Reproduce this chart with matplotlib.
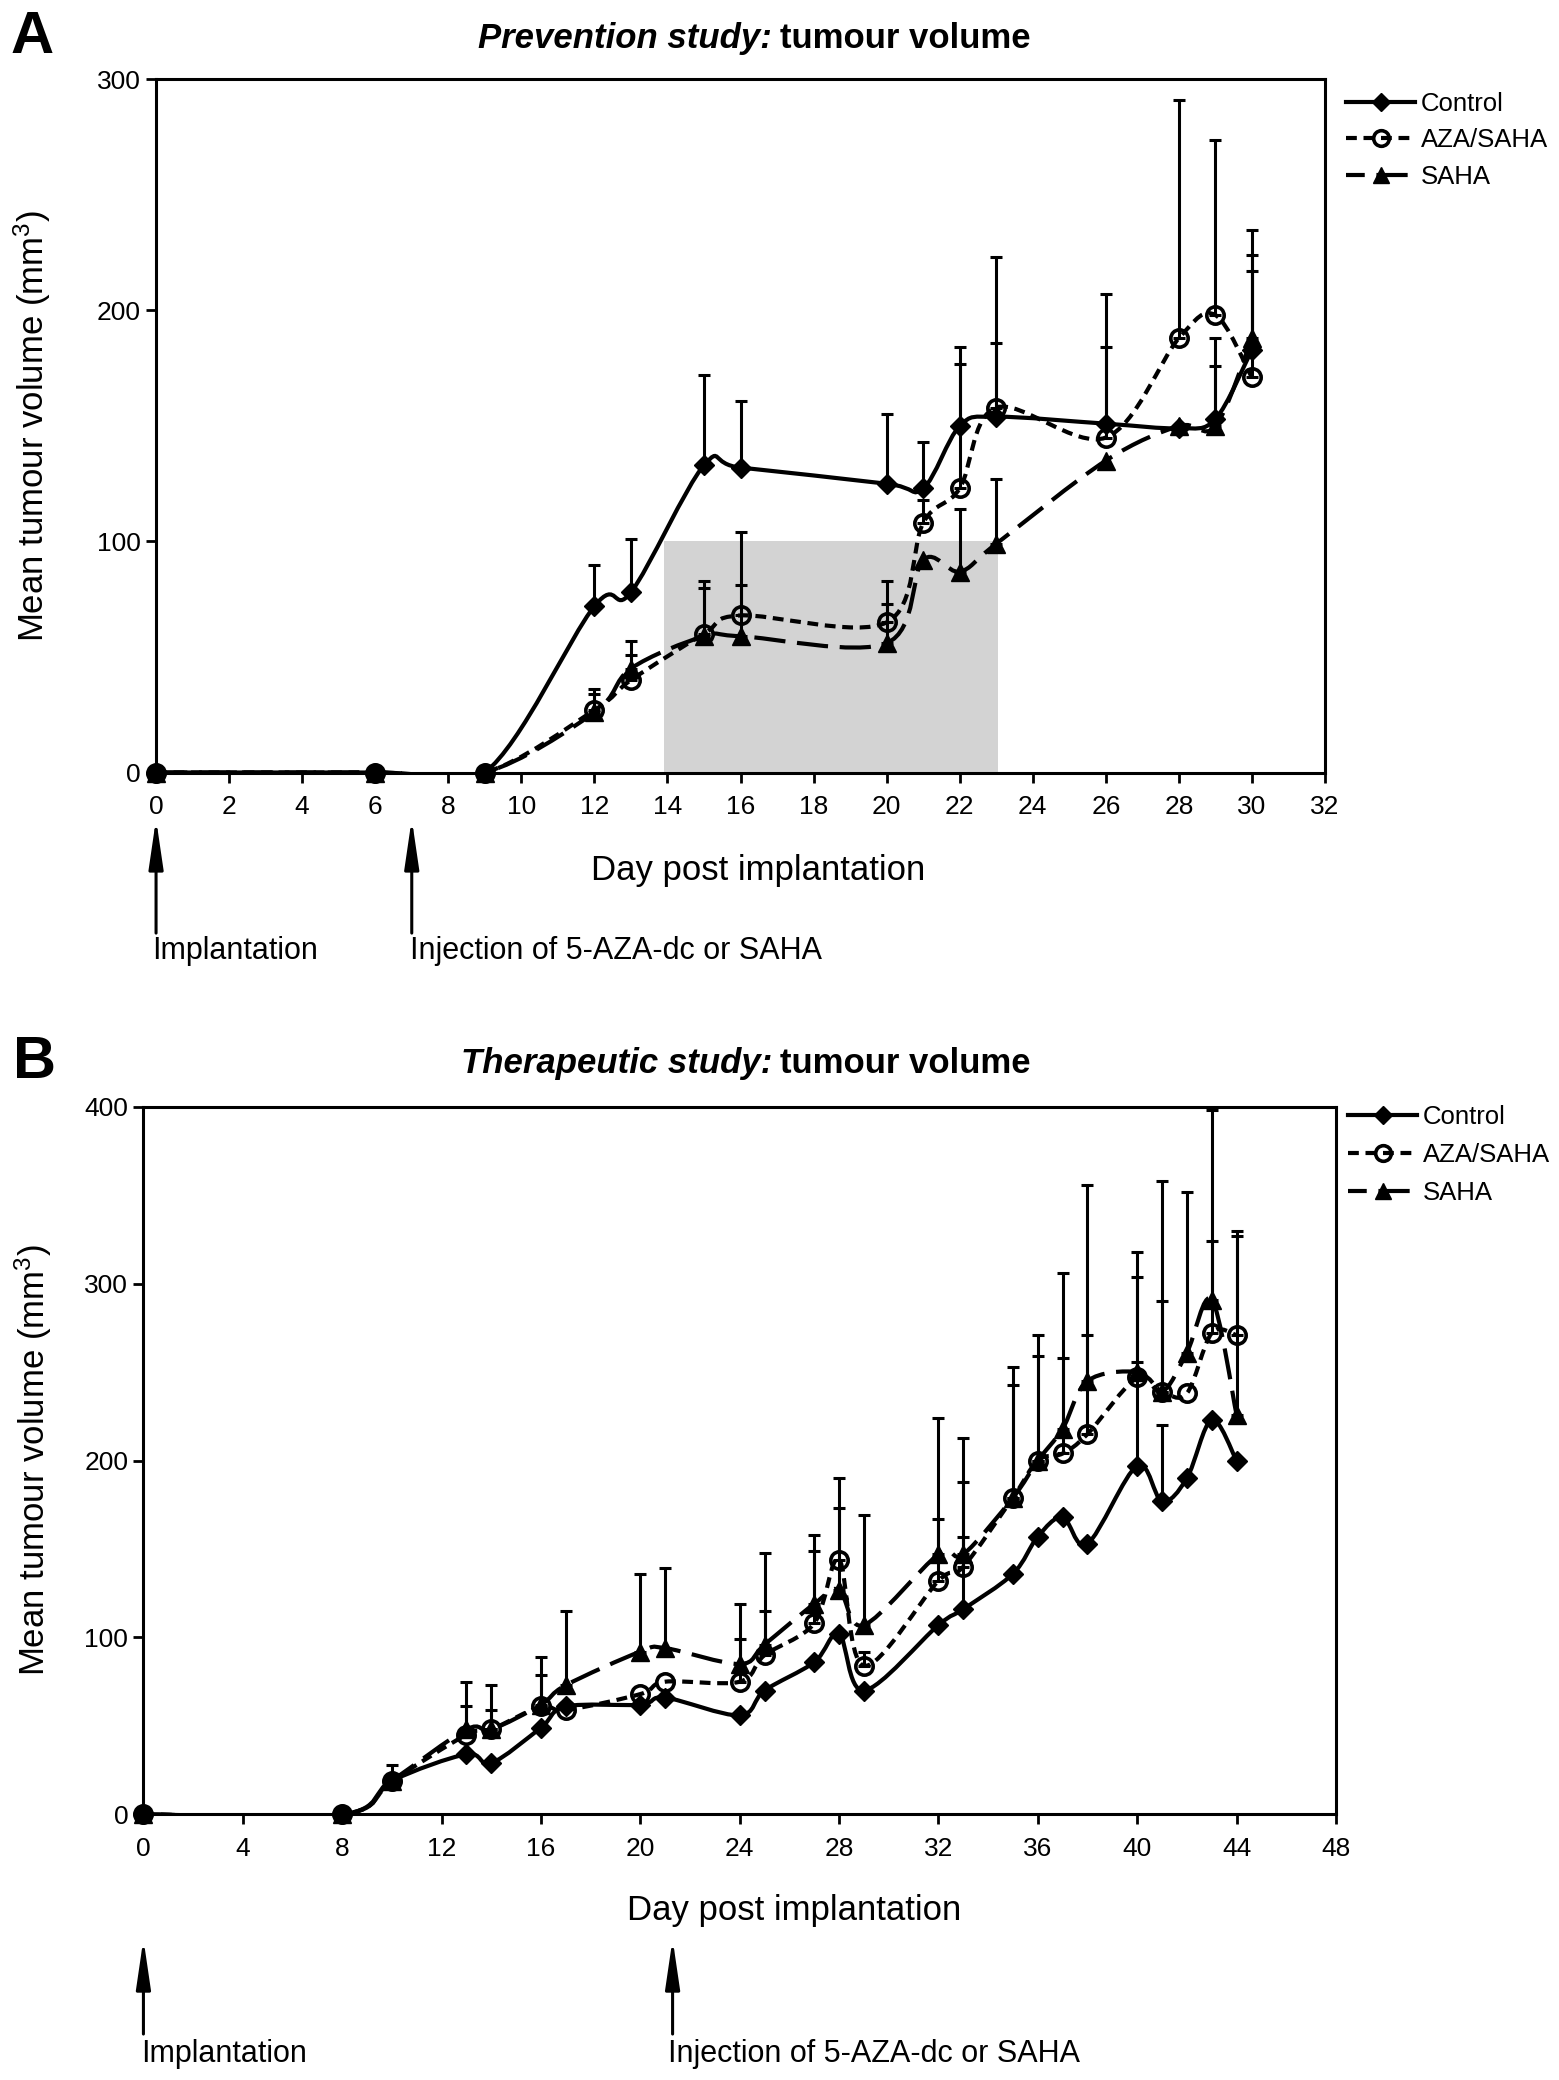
import numpy as np
import matplotlib
matplotlib.use("Agg")
import matplotlib.pyplot as plt
from matplotlib.path import Path
from matplotlib.patches import PathPatch
from matplotlib.lines import Line2D

plt.rcParams['font.family'] = ['Liberation Sans', 'DejaVu Sans']
plt.rcParams['mathtext.fontset'] = 'custom'
plt.rcParams['mathtext.rm'] = 'Liberation Sans'
plt.rcParams['mathtext.it'] = 'Liberation Sans:italic'
plt.rcParams['mathtext.bf'] = 'Liberation Sans:bold'

# ---------------- data: panel A (prevention study) ----------------
days_a = [0, 6, 9, 12, 13, 15, 16, 20, 21, 22, 23, 26, 28, 29, 30]
control_a = [0, 0, 0, 72, 78, 133, 132, 125, 123, 150, 154, 151, 149, 153, 183]
aza_a = [0, 0, 0, 27, 40, 60, 68, 65, 108, 123, 158, 145, 188, 198, 171]
saha_a = [0, 0, 0, 26, 45, 59, 59, 56, 92, 87, 99, 135, 150, 150, 188]
control_err_a = [0, 0, 0, 18, 23, 39, 29, 30, 20, 34, 32, 33, 0, 35, 41]
aza_err_a = [0, 0, 0, 9, 11, 23, 36, 18, 10, 54, 65, 62, 103, 76, 46]
saha_err_a = [0, 0, 0, 8, 12, 21, 22, 17, 0, 27, 28, 0, 0, 26, 47]
shade_days_a = [13.9, 23.05]
shade_top_a = 100
xticks_a = list(range(0, 33, 2))
yticks_a = [0, 100, 200, 300]
arrows_a = [0, 7]

# ---------------- data: panel B (therapeutic study) ----------------
days_b = [0, 8, 10, 13, 14, 16, 17, 20, 21, 24, 25, 27, 28, 29, 32, 33, 35, 36, 37, 38, 40, 41, 42, 43, 44]
control_b = [0, 0, 19, 34, 29, 49, 61, 62, 66, 56, 70, 86, 102, 70, 107, 116, 136, 157, 168, 153, 197, 177, 190, 223, 200]
aza_b = [0, 0, 19, 45, 48, 61, 59, 68, 75, 75, 90, 108, 144, 84, 132, 140, 179, 200, 204, 215, 247, 239, 238, 272, 271]
saha_b = [0, 0, 19, 48, 48, 62, 73, 92, 94, 85, 96, 119, 127, 107, 147, 147, 179, 200, 218, 245, 250, 239, 261, 291, 226]
control_err_b = [0, 0, 0, 0, 0, 0, 0, 0, 0, 0, 0, 0, 0, 0, 0, 41, 0, 0, 0, 0, 59, 43, 0, 0, 0]
aza_err_b = [0, 0, 9, 16, 11, 18, 0, 0, 0, 24, 25, 41, 46, 8, 35, 48, 64, 59, 54, 56, 71, 51, 0, 52, 59]
saha_err_b = [0, 0, 0, 27, 25, 27, 42, 44, 45, 34, 52, 39, 46, 62, 77, 66, 74, 71, 88, 111, 54, 119, 91, 107, 101]
xticks_b = list(range(0, 49, 4))
yticks_b = [0, 100, 200, 300, 400]
arrows_b = [0, 21.3]

series_names = ['Control', 'AZA/SAHA', 'SAHA']


def smooth_path(x, y):
    """Excel-style smoothed line: cubic Bezier through the data points."""
    P = np.column_stack([x, y]).astype(float)
    n = len(P)
    verts = [P[0]]
    codes = [Path.MOVETO]
    for i in range(n - 1):
        p0 = P[i - 1] if i > 0 else P[i]
        p1 = P[i]
        p2 = P[i + 1]
        p3 = P[i + 2] if i + 2 < n else P[i + 1]
        c1 = p1 + (p2 - p0) / 6.0
        c2 = p2 - (p3 - p1) / 6.0
        verts += [c1, c2, p2]
        codes += [Path.CURVE4] * 3
    return Path(verts, codes)


LW = 3.0
styles = [
    dict(ls='-', marker='D', mfc='black', mec='black', ms=10.5, mew=1),
    dict(ls=(0, (2.6, 1.6)), marker='o', mfc='none', mec='black', ms=12.5, mew=2.6),
    dict(ls=(0, (7.5, 2.8)), marker='^', mfc='black', mec='black', ms=13, mew=1),
]
legend_ls = ['-', (0, (2.6, 1.6)), (3.0, (7.5, 2.8))]


def draw_panel(ax, days, ys, errs, xlim, ylim, xticks, yticks):
    # error bars (upper only)
    for y, e in zip(ys, errs):
        d = np.array(days, float)
        yy = np.array(y, float)
        ee = np.array(e, float)
        m = ee > 0
        ax.errorbar(d[m], yy[m], yerr=[np.zeros(m.sum()), ee[m]], fmt='none',
                    ecolor='black', elinewidth=2.2, capsize=4.2, capthick=2.2,
                    zorder=3)
    # smoothed lines
    for y, st in zip(ys, styles):
        patch = PathPatch(smooth_path(days, y), fill=False, lw=LW,
                          linestyle=st['ls'], edgecolor='black',
                          capstyle='butt', zorder=4)
        ax.add_patch(patch)
    # markers
    for y, st in zip(ys, styles):
        ax.plot(days, y, linestyle='none', marker=st['marker'], ms=st['ms'],
                mfc=st['mfc'], mec=st['mec'], mew=st['mew'], clip_on=False,
                zorder=5)
    ax.set_xlim(*xlim)
    ax.set_ylim(*ylim)
    ax.set_xticks(xticks)
    ax.set_yticks(yticks)
    for sp in ax.spines.values():
        sp.set_linewidth(2.2)
    ax.tick_params(axis='both', direction='out', length=7, width=2,
                   labelsize=19, colors='black')
    ax.tick_params(axis='x', pad=9)
    ax.tick_params(axis='y', pad=4)


def legend_handles():
    hs = []
    for name, st, lls in zip(series_names, styles, legend_ls):
        hs.append(Line2D([], [], color='black', lw=LW, ls=lls,
                         marker=st['marker'], ms=st['ms'] * 0.9, mfc=st['mfc'],
                         mec=st['mec'], mew=st['mew'], label=name))
    return hs


fig = plt.figure(figsize=(15.59, 20.80), dpi=100)

arrow_kw = dict(arrowstyle='-|>,head_length=1.5,head_width=0.22', lw=2.2,
                color='black', shrinkA=0, shrinkB=0, mutation_scale=20)

# ---------------- Panel A ----------------
axA = fig.add_axes([0.1001, 0.6286, 0.7498, 0.3332])
axA.fill_between(shade_days_a, 0, shade_top_a, color='#d3d3d3', lw=0, zorder=0)
draw_panel(axA, days_a, [control_a, aza_a, saha_a],
           [control_err_a, aza_err_a, saha_err_a],
           (0, 32), (0, 300), xticks_a, yticks_a)
axA.set_ylabel('Mean tumour volume (mm$^3$)', fontsize=25)
axA.yaxis.set_label_coords(-0.088, 0.5)
axA.set_xlabel('Day post implantation', fontsize=25)
axA.xaxis.set_label_coords(0.515, -0.118)

fig.legend(handles=legend_handles(), loc='upper left',
           bbox_to_anchor=(0.8634, 0.956), frameon=False, fontsize=18.5,
           handlelength=2.7, handletextpad=0.2, labelspacing=0.5,
           borderpad=0, borderaxespad=0)

fig.text(0.0067, 0.9745, 'A', fontsize=43, fontweight='bold', ha='left', va='baseline')
fig.text(772 / 1559, 0.9768, 'Prevention study:', fontsize=25, fontweight='bold',
         fontstyle='italic', ha='right', va='baseline')
fig.text(780 / 1559, 0.9768, 'tumour volume', fontsize=25, fontweight='bold',
         ha='left', va='baseline')

for xd in arrows_a:
    axA.annotate('', xy=(xd, 0.6063), xytext=(xd, 0.5514),
                 xycoords=('data', 'figure fraction'),
                 textcoords=('data', 'figure fraction'),
                 arrowprops=arrow_kw, annotation_clip=False)
fig.text(152 / 1559, 0.543, 'Implantation', fontsize=22, ha='left', va='center')
fig.text(410 / 1559, 0.543, 'Injection of 5-AZA-dc or SAHA', fontsize=22,
         ha='left', va='center')

# ---------------- Panel B ----------------
axB = fig.add_axes([0.0920, 0.1277, 0.7649, 0.3402])
draw_panel(axB, days_b, [control_b, aza_b, saha_b],
           [control_err_b, aza_err_b, saha_err_b],
           (0, 48), (0, 400), xticks_b, yticks_b)
axB.set_ylabel('Mean tumour volume (mm$^3$)', fontsize=25)
axB.yaxis.set_label_coords(-0.075, 0.5)
axB.set_xlabel('Day post implantation', fontsize=25)
axB.xaxis.set_label_coords(0.546, -0.112)

fig.legend(handles=legend_handles(), loc='upper left',
           bbox_to_anchor=(0.8647, 0.4688), frameon=False, fontsize=18.5,
           handlelength=2.7, handletextpad=0.2, labelspacing=0.55,
           borderpad=0, borderaxespad=0)

fig.text(0.0081, 0.4817, 'B', fontsize=43, fontweight='bold', ha='left', va='baseline')
fig.text(772 / 1559, 0.4840, 'Therapeutic study:', fontsize=25, fontweight='bold',
         fontstyle='italic', ha='right', va='baseline')
fig.text(780 / 1559, 0.4840, 'tumour volume', fontsize=25, fontweight='bold',
         ha='left', va='baseline')

for xd in arrows_b:
    axB.annotate('', xy=(xd, 0.0678), xytext=(xd, 0.0221),
                 xycoords=('data', 'figure fraction'),
                 textcoords=('data', 'figure fraction'),
                 arrowprops=arrow_kw, annotation_clip=False)
fig.text(141.5 / 1559, 0.0125, 'Implantation', fontsize=22, ha='left', va='center')
fig.text(668 / 1559, 0.0125, 'Injection of 5-AZA-dc or SAHA', fontsize=22,
         ha='left', va='center')

fig.savefig('out.png', dpi=100, facecolor='white')
